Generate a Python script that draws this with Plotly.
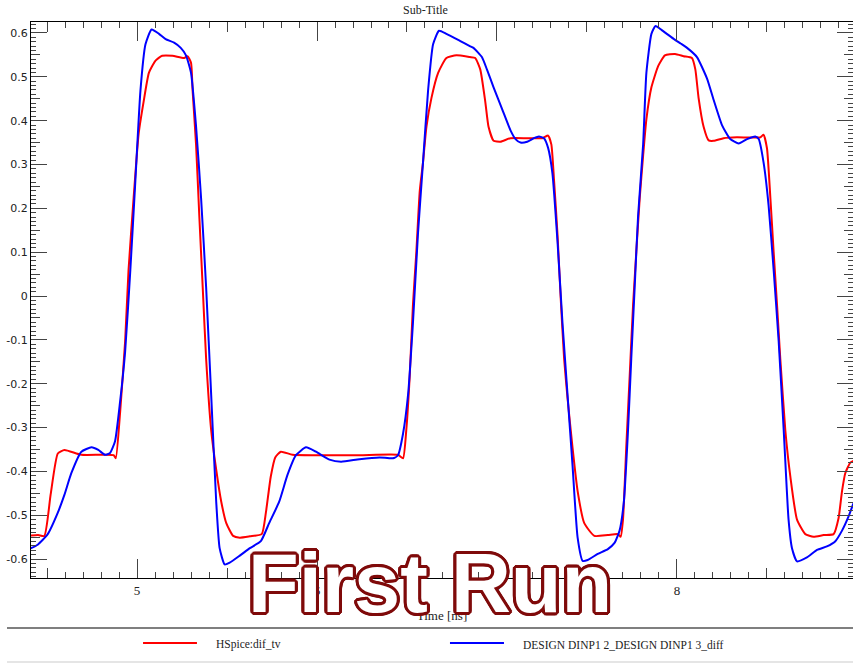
import plotly.graph_objects as go

# HSpice differential waveform (time in ns, volts)
t_hspice = [4.391, 4.45, 4.485, 4.52, 4.56, 4.597, 4.69, 4.87, 4.882, 4.906, 4.934, 4.953, 4.981,
            5.009, 5.037, 5.066, 5.103, 5.14, 5.197, 5.262, 5.281, 5.30, 5.309, 5.328, 5.346,
            5.365, 5.384, 5.412, 5.44, 5.468, 5.496, 5.534, 5.571, 5.627, 5.693, 5.716, 5.743,
            5.768, 5.799, 5.864, 5.994, 6.236, 6.45, 6.478, 6.496, 6.515, 6.533, 6.552, 6.571,
            6.589, 6.608, 6.636, 6.673, 6.719, 6.775, 6.849, 6.879, 6.907, 6.935, 6.953, 6.981,
            7.019, 7.075, 7.168, 7.252, 7.284, 7.302, 7.317, 7.336, 7.354, 7.373, 7.392, 7.42,
            7.448, 7.485, 7.541, 7.616, 7.672, 7.687, 7.70, 7.718, 7.737, 7.756, 7.774, 7.793,
            7.812, 7.83, 7.858, 7.896, 7.933, 7.989, 8.037, 8.083, 8.102, 8.12, 8.148, 8.176,
            8.204, 8.259, 8.333, 8.463, 8.481, 8.50, 8.519, 8.537, 8.556, 8.574, 8.602, 8.63,
            8.667, 8.713, 8.759, 8.815, 8.87, 8.898, 8.917, 8.935, 8.963, 8.98]
v_hspice = [-0.547, -0.545, -0.547, -0.453, -0.359, -0.351, -0.362, -0.363, -0.37, -0.266, -0.103,
            0.06, 0.223, 0.37, 0.444, 0.509, 0.537, 0.548, 0.548, 0.543, 0.547, 0.532, 0.468,
            0.346, 0.183, 0.02, -0.143, -0.306, -0.396, -0.469, -0.518, -0.547, -0.551, -0.548,
            -0.543, -0.494, -0.412, -0.368, -0.355, -0.362, -0.363, -0.363, -0.362, -0.37, -0.306,
            -0.184, -0.021, 0.101, 0.24, 0.305, 0.386, 0.452, 0.509, 0.543, 0.549, 0.545, 0.543,
            0.517, 0.443, 0.386, 0.354, 0.352, 0.36, 0.36, 0.36, 0.366, 0.346, 0.264, 0.142,
            -0.005, -0.143, -0.233, -0.347, -0.445, -0.518, -0.547, -0.545, -0.543, -0.549, -0.51,
            -0.347, -0.184, -0.021, 0.101, 0.223, 0.321, 0.403, 0.476, 0.525, 0.549, 0.552, 0.547,
            0.543, 0.517, 0.452, 0.386, 0.355, 0.354, 0.36, 0.362, 0.362, 0.368, 0.337, 0.223,
            0.101, -0.021, -0.143, -0.306, -0.412, -0.51, -0.543, -0.549, -0.545, -0.543, -0.506,
            -0.445, -0.404, -0.38, -0.376]

# Extracted design differential waveform
t_design = [4.391, 4.448, 4.504, 4.56, 4.597, 4.635, 4.691, 4.747, 4.785, 4.822, 4.85, 4.878,
            4.906, 4.934, 4.963, 4.991, 5.019, 5.047, 5.081, 5.122, 5.159, 5.206, 5.243, 5.272,
            5.30, 5.328, 5.356, 5.384, 5.412, 5.44, 5.459, 5.487, 5.515, 5.571, 5.627, 5.688,
            5.734, 5.79, 5.836, 5.883, 5.939, 5.994, 6.069, 6.134, 6.236, 6.348, 6.422, 6.45,
            6.478, 6.506, 6.533, 6.561, 6.589, 6.617, 6.645, 6.678, 6.719, 6.794, 6.849, 6.869,
            6.916, 6.944, 6.981, 7.028, 7.075, 7.103, 7.131, 7.168, 7.205, 7.233, 7.261, 7.284,
            7.308, 7.336, 7.364, 7.392, 7.42, 7.448, 7.476, 7.504, 7.56, 7.616, 7.653, 7.681,
            7.705, 7.728, 7.746, 7.765, 7.784, 7.812, 7.83, 7.858, 7.881, 7.914, 7.97, 8.02,
            8.056, 8.111, 8.167, 8.204, 8.25, 8.296, 8.343, 8.389, 8.435, 8.454, 8.481, 8.509,
            8.537, 8.565, 8.593, 8.62, 8.639, 8.667, 8.722, 8.778, 8.833, 8.88, 8.917, 8.954, 8.98]
v_design = [-0.579, -0.567, -0.543, -0.494, -0.453, -0.404, -0.355, -0.345, -0.351, -0.362, -0.358,
            -0.331, -0.241, -0.127, 0.06, 0.264, 0.468, 0.574, 0.608, 0.598, 0.586, 0.578, 0.566,
            0.549, 0.509, 0.387, 0.223, 0.02, -0.225, -0.469, -0.575, -0.612, -0.608, -0.592,
            -0.575, -0.559, -0.518, -0.469, -0.408, -0.363, -0.345, -0.355, -0.373, -0.378, -0.372,
            -0.368, -0.37, -0.363, -0.314, -0.225, -0.062, 0.142, 0.305, 0.468, 0.574, 0.605,
            0.598, 0.582, 0.57, 0.566, 0.545, 0.517, 0.476, 0.427, 0.378, 0.358, 0.35, 0.352,
            0.36, 0.364, 0.36, 0.338, 0.28, 0.126, -0.062, -0.225, -0.388, -0.551, -0.604, -0.602,
            -0.588, -0.577, -0.563, -0.535, -0.469, -0.306, -0.143, 0.02, 0.183, 0.346, 0.509,
            0.598, 0.616, 0.607, 0.59, 0.576, 0.566, 0.545, 0.496, 0.447, 0.39, 0.358, 0.348,
            0.358, 0.364, 0.358, 0.305, 0.207, 0.06, -0.103, -0.306, -0.51, -0.575, -0.605, -0.596,
            -0.579, -0.571, -0.559, -0.535, -0.502, -0.473]

series_names = ["HSpice:dif_tv", "DESIGN DINP1 2_DESIGN DINP1 3_diff"]
series_colors = ["rgb(255,0,0)", "rgb(0,0,255)"]

x_tickvals = [5, 6, 7, 8]
x_ticktext = ["5", "6", "7", "8"]
y_tickvals = [0.6, 0.5, 0.4, 0.3, 0.2, 0.1, 0, -0.1, -0.2, -0.3, -0.4, -0.5, -0.6]
y_ticktext = ["0.6", "0.5", "0.4", "0.3", "0.2", "0.1", "0", "-0.1", "-0.2", "-0.3", "-0.4", "-0.5", "-0.6"]

x_range = [4.411, 8.978]
y_range = [-0.643, 0.625]

fig = go.Figure()
for t, v, name, color in [(t_hspice, v_hspice, series_names[0], series_colors[0]),
                          (t_design, v_design, series_names[1], series_colors[1])]:
    fig.add_trace(go.Scatter(x=t, y=v, mode="lines", name=name, showlegend=False,
                             line=dict(color=color, width=2, shape="spline", smoothing=0.5)))

# placeholder trace so the overlay axes (mid-size ticks) get drawn
fig.add_trace(go.Scatter(x=[x_range[0]], y=[y_range[0]], xaxis="x2", yaxis="y2",
                         mode="markers", marker=dict(opacity=0), showlegend=False,
                         hoverinfo="skip"))

tick_col = "#444444"
fig.update_layout(
    width=853, height=663,
    margin=dict(l=31, r=0, t=22, b=85),
    paper_bgcolor="white", plot_bgcolor="white",
    xaxis=dict(range=x_range, tickvals=x_tickvals, ticktext=x_ticktext,
               ticks="inside", ticklen=19, tickwidth=1, tickcolor=tick_col,
               showline=True, linecolor="black", linewidth=1, mirror="ticks",
               showgrid=False, zeroline=False,
               tickfont=dict(family="Liberation Serif", size=13, color="#222"),
               minor=dict(dtick=0.1, tick0=0, ticks="inside", ticklen=6,
                          tickcolor=tick_col, showgrid=False),
               title=dict(text="Time [ns]", standoff=14,
                          font=dict(family="Liberation Serif", size=13, color="#222"))),
    yaxis=dict(range=y_range, tickvals=y_tickvals, ticktext=y_ticktext,
               ticks="inside", ticklen=16, tickwidth=1, tickcolor=tick_col,
               showline=True, linecolor="black", linewidth=1, mirror="ticks",
               showgrid=False, zeroline=False,
               tickfont=dict(family="DejaVu Sans", size=11, color="#222"),
               minor=dict(dtick=0.01, tick0=0, ticks="inside", ticklen=5,
                          tickcolor=tick_col, showgrid=False)),
    xaxis2=dict(overlaying="x", anchor="y", range=x_range, dtick=0.5, tick0=0,
                ticks="inside", ticklen=10, tickcolor=tick_col, mirror="ticks",
                showticklabels=False, showgrid=False, zeroline=False, showline=False),
    yaxis2=dict(overlaying="y", anchor="x", range=y_range, dtick=0.05, tick0=0,
                ticks="inside", ticklen=9, tickcolor=tick_col, mirror="ticks",
                showticklabels=False, showgrid=False, zeroline=False, showline=False),
)

# subtitle
fig.add_annotation(text="Sub-Title", xref="paper", yref="paper", x=0.4805, y=1.0216,
                   xanchor="center", yanchor="middle", showarrow=False,
                   font=dict(family="Liberation Serif", size=12, color="#222"))

# legend band: separator lines, sample strokes and names
fig.add_shape(type="line", xref="paper", yref="paper", x0=-0.0292, x1=1.0, y0=-0.0899, y1=-0.0899,
              line=dict(color="#555", width=1.5))
fig.add_shape(type="line", xref="paper", yref="paper", x0=-0.0292, x1=1.0, y0=-0.151, y1=-0.151,
              line=dict(color="#dddddd", width=1.5))
legend_x = [(0.1363, 0.2019, 0.2226), (0.5097, 0.5754, 0.5961)]
for (lx0, lx1, tx), name, color in zip(legend_x, series_names, series_colors):
    fig.add_shape(type="line", xref="paper", yref="paper", x0=lx0, x1=lx1, y0=-0.1169, y1=-0.1169,
                  line=dict(color=color, width=2))
    fig.add_annotation(text=name, xref="paper", yref="paper", x=tx, y=-0.1205,
                       xanchor="left", yanchor="middle", showarrow=False,
                       font=dict(family="Liberation Serif", size=11.5, color="#222"))

# outlined watermark
outline = "#7f0a0a"
offs = [(-3, 0), (3, 0), (0, -3), (0, 3), (-2, -2), (2, -2), (-2, 2), (2, 2),
        (-3, -1), (-3, 1), (3, -1), (3, 1), (-1, -3), (1, -3), (-1, 3), (1, 3)]
shadow = ", ".join(f"{dx}px {dy}px 0 {outline}" for dx, dy in offs)
fig.add_annotation(text="First Run", xref="paper", yref="paper", x=0.4854, y=-0.009,
                   xanchor="center", yanchor="middle", showarrow=False,
                   font=dict(family="Liberation Sans", size=83, color="white",
                             weight="bold", shadow=shadow))

fig.write_html("out.html")
